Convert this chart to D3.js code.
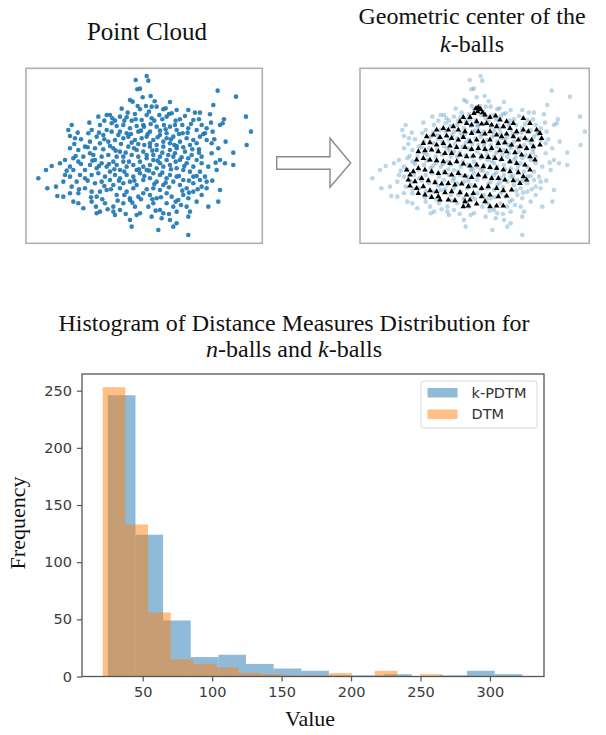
<!DOCTYPE html>
<html>
<head>
<meta charset="utf-8">
<script src="https://cdn.jsdelivr.net/npm/d3@7"></script>
<style>
  html, body { margin: 0; padding: 0; background: #fff; }
  svg { display: block; }
</style>
</head>
<body>
<svg id="fig" width="606" height="735"></svg>
<script>
// ---- Histogram data: 15 equal-width bins per distance measure ----
const seriesNames = ["k-PDTM", "DTM"];
const kpdtmRange = [24.9, 323.3];
const kpdtmCounts = [246, 124, 49, 17, 19, 11, 7, 5, 1, 1, 2, 0, 1, 5, 2];
const dtmRange = [21.2, 266.0];
const dtmCounts = [253, 133, 56, 15, 11, 8, 3, 2, 1, 1, 3, 0, 5, 0, 2];
const xTicks = [50, 100, 150, 200, 250, 300];
const yTicks = [0, 50, 100, 150, 200, 250];

// ---- Point cloud (x, y) ----
const cloudPoints = [
  [0.05,2.52],[0.10,2.38],[-0.28,2.40],[-0.23,2.12],[-0.15,2.14],[2.18,2.08],[2.73,1.90],
  [-0.45,1.80],[-0.37,1.75],[-0.07,1.88],[0.17,1.92],[0.29,1.76],[0.75,1.74],[2.05,1.65],
  [0.35,1.60],[0.20,1.60],[0.03,1.62],[-0.70,1.54],[-0.15,1.52],[0.55,1.52],[0.95,1.50],
  [1.30,1.50],[1.50,1.42],[1.65,1.42],[1.95,1.37],[-1.15,1.35],[-1.05,1.35],[-1.40,1.30],
  [-0.75,1.30],[-0.55,1.28],[-0.30,1.38],[0.05,1.35],[0.20,1.25],[0.43,1.35],[0.65,1.30],
  [0.80,1.40],[1.05,1.22],[1.20,1.32],[2.37,1.22],[3.03,1.30],[-0.10,1.20],[-0.40,1.18],
  [-0.90,1.18],[1.45,1.20],
  [-1.67,1.12],[-2.20,1.05],[-1.35,1.05],[-1.00,1.10],[-0.85,1.02],[-0.65,1.05],[-0.45,0.95],
  [-0.25,1.02],[-0.03,1.00],[0.17,1.08],[0.35,1.00],[0.57,1.05],[0.75,1.00],[0.95,0.90],
  [1.13,0.80],[1.30,0.95],[1.55,0.90],[1.70,1.05],[1.85,0.95],[2.25,1.05],[2.33,1.10],
  [-2.30,0.90],[-1.60,0.90],[-1.70,0.80],[-1.15,0.90],[-0.75,0.85],[-0.55,0.80],[-0.20,0.85],
  [0.15,0.85],[0.45,0.88],[0.65,0.80],[0.90,1.05],[1.80,0.80],[2.03,0.85],[3.18,0.85],
  [-2.25,0.72],[-2.10,0.65],[-1.45,0.70],[-1.25,0.75],[-1.00,0.85],[-0.80,0.75],[-0.65,0.65],
  [-0.50,0.70],[-0.30,0.60],[-0.10,0.65],[0.05,0.70],[0.25,0.60],[0.45,0.75],[0.65,0.65],
  [0.85,0.70],[1.05,0.55],[1.25,0.65],[1.45,0.60],[1.65,0.70],[1.85,0.60],[2.00,0.50],
  [-1.65,0.55],[-1.35,0.50],[-1.10,0.55],[-0.90,0.60],[-0.40,0.52],[-0.20,0.48],[0.15,0.50],
  [0.35,0.45],[0.55,0.55],[0.75,0.50],[0.95,0.42],[1.35,0.45],[1.55,0.50],[3.05,0.45],[-1.80,0.40],
  [-2.00,0.30],[-2.25,0.35],[-1.50,0.35],[-1.25,0.32],[-0.95,0.35],[-0.75,0.25],[-0.50,0.40],
  [-0.25,0.30],[-0.05,0.25],[0.15,0.40],[0.35,0.30],[0.55,0.40],[0.75,0.30],[0.95,0.35],
  [1.20,0.25],[1.40,0.15],[1.55,0.00],[2.00,0.20],[2.20,0.35],[2.65,0.22],[-1.65,0.20],
  [-1.85,0.10],[-1.30,0.10],[-1.10,0.15],[-0.85,0.10],[-0.65,0.10],[-0.40,0.15],[-0.20,0.10],
  [0.05,0.15],[0.25,0.15],[0.45,0.10],[0.70,0.15],[0.90,0.20],[1.10,0.08],[1.30,0.05],
  [1.70,0.10],[2.25,0.00],[-2.40,0.00],[-2.15,0.05],[-1.50,0.00],
  [-2.55,-0.10],[-2.80,-0.18],[-2.97,-0.30],[-2.15,-0.30],[-2.00,-0.05],[-1.65,-0.15],[-1.80,-0.30],
  [-1.30,-0.10],[-1.15,-0.20],[-0.95,-0.05],[-0.75,-0.30],[-0.55,-0.20],[-0.35,-0.15],[-0.15,-0.05],
  [0.05,0.05],[0.25,0.00],[0.45,-0.10],[0.65,0.00],[0.85,0.10],[1.05,0.00],[1.25,-0.10],
  [1.45,-0.20],[1.65,-0.35],[1.90,-0.20],[1.70,-0.10],[2.15,-0.30],[2.40,-0.10],[2.65,-0.15],
  [-1.45,-0.25],[-1.05,-0.35],[-0.85,-0.15],[-0.65,-0.05],[-0.25,-0.30],[-0.05,-0.20],[0.15,-0.15],
  [0.35,-0.25],[0.55,-0.20],[0.75,-0.15],[0.95,-0.25],[1.15,-0.30],[1.35,-0.35],[-2.25,-0.20],[-2.40,-0.45],
  [-3.20,-0.55],[-2.25,-0.50],[-2.45,-0.65],[-2.67,-0.80],[-1.95,-0.45],[-2.05,-0.65],[-1.80,-0.55],
  [-1.60,-0.45],[-1.40,-0.40],[-1.20,-0.50],[-1.05,-0.60],[-0.90,-0.45],[-0.75,-0.55],[-0.55,-0.45],
  [-0.35,-0.50],[-0.15,-0.40],[0.05,-0.30],[0.25,-0.40],[0.45,-0.45],[0.65,-0.55],[0.85,-0.65],
  [1.05,-0.75],[1.25,-0.85],[1.45,-0.70],[1.65,-0.60],[1.80,-0.50],[1.85,-0.65],[-1.50,-0.70],
  [-1.30,-0.65],[-0.65,-0.70],[-0.45,-0.65],[-0.25,-0.75],[-0.05,-0.60],[0.15,-0.55],[0.35,-0.65],
  [0.55,-0.75],[0.75,-0.45],[0.95,-0.50],[1.15,-0.60],[1.45,-0.50],
  [-2.93,-0.85],[-2.63,-1.08],[-2.45,-1.10],[-2.20,-0.80],[-2.25,-1.00],[-1.80,-0.85],[-1.60,-0.95],
  [-1.35,-0.95],[-1.15,-0.90],[-0.95,-0.75],[-0.75,-0.85],[-0.55,-0.95],[-0.35,-0.85],[-0.20,-1.10],
  [-0.05,-1.00],[0.15,-1.05],[0.25,-0.85],[0.45,-0.90],[0.65,-1.00],[0.80,-1.10],[1.00,-1.20],
  [1.15,-1.05],[1.45,-0.95],[1.70,-1.05],[1.70,-0.80],[1.85,-0.85],[2.25,-0.90],[-1.45,-1.10],
  [-0.85,-1.05],[-0.45,-1.15],[0.35,-1.15],[1.30,-1.15],[-2.00,-1.00],
  [-2.15,-1.25],[-2.00,-1.30],[-1.85,-1.45],[-1.60,-1.25],[-1.47,-1.40],[-1.20,-1.30],[-0.95,-1.40],
  [-0.65,-1.30],[-0.45,-1.20],[-0.30,-1.40],[-0.15,-1.60],[0.10,-1.40],[0.45,-1.50],[0.55,-1.60],
  [0.95,-1.55],[1.25,-1.40],[1.35,-1.55],[1.90,-1.40],[2.20,-1.25],[-1.45,-1.60],[-1.35,-1.55],
  [-0.95,-1.55],[-0.75,-1.50],[0.25,-1.30],[0.65,-1.30],[0.85,-1.40],[1.55,-1.25],
  [-0.90,-1.65],[-0.45,-1.80],[-0.40,-2.00],[0.40,-2.10],[0.50,-1.75],[0.85,-2.00],[0.95,-1.90],
  [1.30,-1.70],[1.30,-2.25],[-0.25,-1.65],[0.20,-1.70],[0.75,-1.80],
  [-1.92,0.62],[-1.72,0.38],[-1.55,0.15],[-1.38,0.82],[-1.22,0.62],[-1.05,0.42],[-0.88,0.28],
  [-0.72,0.48],[-0.58,0.22],[-0.42,0.78],[-0.33,0.35],[-0.12,0.88],[-0.02,0.45],[0.08,0.78],
  [0.22,0.28],[0.38,0.68],[0.52,0.22],[0.62,0.92],[0.78,0.62],[0.88,0.45],[1.02,0.78],
  [1.15,0.38],[1.28,0.82],[1.42,0.32],[1.62,0.22],[1.75,0.78],
  [-1.92,-0.12],[-1.72,-0.62],[-1.58,-0.02],[-1.38,-0.18],[-1.22,-0.78],[-1.08,-0.12],[-0.92,-0.28],
  [-0.78,-0.62],[-0.62,-0.35],[-0.48,-0.05],[-0.32,-0.62],[-0.18,-0.28],[-0.02,-0.48],[0.12,-0.32],
  [0.28,-0.72],[0.38,-0.02],[0.52,-0.38],[0.62,-0.68],[0.78,-0.28],[0.92,-0.05],[1.02,-0.48],
  [1.18,-0.18],[1.32,-0.62],[1.55,-0.48],[1.62,0.32],
  [-1.62,-1.12],[-1.28,-1.18],[-1.02,-0.88],[-0.82,-1.22],[-0.62,-1.05],[-0.38,-1.28],[-0.12,-1.18],
  [0.05,-0.88],[0.22,-1.18],[0.48,-1.12],[0.72,-0.82],[0.92,-1.25],[1.12,-0.92],[1.32,-0.98],[1.58,-0.88],
  [-1.22,1.18],[-0.98,1.25],[-0.62,1.18],[-0.28,1.22],[-0.05,1.05],[0.28,1.18],[0.52,1.22],
  [0.72,1.38],[0.92,1.18],[1.12,1.05],[1.38,1.08],[1.62,1.22],[-0.52,1.42],[-0.22,1.62],[0.12,1.45],[0.62,1.55],
  [-2.02,0.82],[-2.12,0.48],[-1.98,-0.88],[-2.35,-0.32],[-2.08,0.12],[2.08,0.62],[2.12,-0.08],
  [2.02,-0.62],[1.98,1.12],[2.42,0.55],[-0.58,-1.62],[0.32,-1.52],[0.72,-1.62],[-1.12,-1.48],[1.08,-1.35]
];

// ---- Geometric centers of the k-balls (x, y) ----
const ballCenters = [
  [-0.09,1.55],[-0.02,1.58],[0.05,1.52],[-0.04,1.45],[0.11,1.42],[-0.15,1.40],[0.18,1.35],
  [-0.47,1.28],[-0.27,1.28],[0.33,1.28],[0.50,1.32],[0.63,1.20],[0.83,1.15],[1.03,1.10],
  [1.33,1.25],[1.53,1.10],[-0.57,1.15],[-0.37,1.10],[-0.22,1.05],[-0.07,1.15],[0.08,1.08],
  [0.23,1.10],[0.38,1.05],[0.53,1.00],[0.73,1.00],[0.93,0.95],[1.13,0.85],[1.33,0.90],
  [1.48,0.85],[1.73,0.90],[1.83,0.80],[1.88,0.65],[-1.27,0.90],[-1.07,0.95],[-0.92,0.90],
  [-0.77,1.00],[-0.62,0.90],[-0.42,0.85],[-0.22,0.80],[-0.02,0.85],[0.18,0.78],[0.33,0.85],
  [0.53,0.75],[0.68,0.70],[0.83,0.78],[1.03,0.70],[1.18,0.60],[1.38,0.65],[1.58,0.60],
  [-1.57,0.70],[-1.37,0.75],[-1.17,0.68],[-0.97,0.72],[-0.82,0.65],[-0.62,0.60],[-0.47,0.68],
  [-0.27,0.55],[-0.07,0.60],[0.13,0.55],[0.33,0.60],[0.58,0.50],[0.78,0.52],[0.98,0.45],
  [1.23,0.40],[1.43,0.35],[1.63,0.40],[1.83,0.45],[-1.67,0.50],[-1.47,0.52],[-1.27,0.45],
  [-1.07,0.50],[-0.87,0.42],[-0.67,0.38],[-0.42,0.38],[-0.22,0.32],[-0.02,0.35],[0.18,0.32],
  [0.38,0.35],[0.63,0.28],[0.83,0.25],[1.08,0.22],[1.28,0.15],[1.53,0.10],[1.68,0.00],
  [-1.82,0.25],[-1.62,0.28],[-1.42,0.30],[-1.22,0.25],[-1.02,0.20],[-0.82,0.20],[-0.57,0.15],
  [-0.37,0.10],[-0.17,0.12],[0.08,0.10],[0.28,0.08],[0.48,0.05],[0.68,0.02],[0.93,-0.05],
  [1.13,-0.10],[1.38,-0.15],[1.53,-0.30],[-1.87,0.00],[-1.67,0.05],[-1.47,0.00],[-1.27,-0.02],
  [-1.07,-0.05],[-0.87,-0.10],[-0.67,-0.05],[-0.47,-0.12],[-0.27,-0.18],[-0.07,-0.15],[0.13,-0.20],
  [0.33,-0.22],[0.53,-0.25],[0.73,-0.30],[0.93,-0.35],[1.18,-0.38],[1.33,-0.50],[-2.17,-0.30],
  [-2.07,-0.45],[-1.97,-0.35],[-1.82,-0.25],[-1.62,-0.30],[-1.42,-0.35],[-1.22,-0.40],[-1.02,-0.38],
  [-0.82,-0.45],[-0.62,-0.40],[-0.42,-0.48],[-0.22,-0.52],[-0.02,-0.45],[0.18,-0.50],[0.38,-0.55],
  [0.58,-0.55],[0.78,-0.60],[1.03,-0.62],[1.23,-0.70],[1.43,-0.60],[-2.12,-0.60],[-1.92,-0.65],
  [-1.72,-0.55],[-1.52,-0.62],[-1.32,-0.68],[-1.12,-0.72],[-0.92,-0.70],[-0.72,-0.75],[-0.52,-0.72],
  [-0.32,-0.80],[-0.12,-0.78],[0.08,-0.85],[0.28,-0.80],[0.53,-0.85],[0.73,-0.92],[0.98,-0.90],
  [-2.07,-0.78],[-1.87,-0.85],[-1.67,-0.80],[-1.47,-0.92],[-1.27,-0.95],[-1.02,-0.98],[-0.82,-0.95],
  [-0.57,-0.98],[-0.37,-1.05],[-0.17,-1.00],[0.08,-1.10],[0.33,-1.05],[0.58,-1.10],[0.83,-1.08],
  [-1.82,-1.00],[-1.62,-1.05],[-1.42,-1.12],[-1.22,-1.10],[-0.92,-1.20],[-0.72,-1.22],[-0.42,-1.25],
  [-0.27,-1.20],[-0.07,-1.32],[0.18,-1.25],[0.53,-1.38],[0.73,-1.38],[-1.17,-1.20],[-0.47,-1.40],
  [-0.32,-1.38],[0.33,-1.40]
];

const svg = d3.select("#fig");
const serif = "'Liberation Serif', 'Times New Roman', serif";
const sans = "'DejaVu Sans', sans-serif";
const blue = "#1f77b4", orange = "#ff7f0e";

// ---------- Top panels ----------
const cloudX = d3.scaleLinear().domain([-3.57, 3.52]);
const cloudY = d3.scaleLinear().domain([-2.5, 2.75]).range([243.3, 68.3]);
const panels = [
  { left: 26, width: 236.3 },
  { left: 360, width: 229.3 }
];

// panel titles
svg.append("text").attr("x", 147).attr("y", 40).attr("text-anchor", "middle")
  .style("font-family", serif).style("font-size", "25px").attr("fill", "#111")
  .text("Point Cloud");
const t2 = svg.append("text").attr("text-anchor", "middle")
  .style("font-family", serif).style("font-size", "24px").attr("fill", "#111");
t2.append("tspan").attr("x", 472).attr("y", 24).text("Geometric center of the");
const t2b = t2.append("tspan").attr("x", 472).attr("y", 52);
t2b.append("tspan").style("font-style", "italic").text("k");
t2b.append("tspan").text("-balls");

svg.append("defs").selectAll("clipPath").data(panels).join("clipPath")
  .attr("id", (d, i) => "clip" + i)
  .append("rect").attr("x", d => d.left).attr("y", 68.3)
  .attr("width", d => d.width).attr("height", 175);

panels.forEach((p, i) => {
  const xs = cloudX.copy().range([p.left, p.left + 236.3]);
  const g = svg.append("g").attr("clip-path", `url(#clip${i})`);
  g.append("rect").attr("x", p.left).attr("y", 68.3).attr("width", p.width).attr("height", 175)
    .attr("fill", "#fff");
  g.selectAll("circle").data(cloudPoints).join("circle")
    .attr("cx", d => xs(d[0])).attr("cy", d => cloudY(d[1])).attr("r", 2.3)
    .attr("fill", blue).attr("fill-opacity", i === 0 ? 0.92 : 0.3);
  if (i === 1) {
    const tri = d3.symbol().type(d3.symbolTriangle).size(14);
    g.selectAll("path.c").data(ballCenters).join("path").attr("class", "c")
      .attr("transform", d => `translate(${xs(d[0])},${cloudY(d[1])})`)
      .attr("d", tri).attr("fill", "#000");
  }
  svg.append("rect").attr("x", p.left).attr("y", 68.3).attr("width", p.width).attr("height", 175)
    .attr("fill", "none").attr("stroke", "#b0b0b0").attr("stroke-width", 1.6);
});

// arrow between the panels
svg.append("path")
  .attr("d", "M276.7,156.7 L330,156.7 L330,138.3 L350.7,163 L330,187.3 L330,169.3 L276.7,169.3 Z")
  .attr("fill", "#fff").attr("stroke", "#8a8a8a").attr("stroke-width", 1.4)
  .attr("stroke-linejoin", "miter");

// ---------- Histogram ----------
const H = { left: 82, right: 544, top: 374, bottom: 676.5 };
const x = d3.scaleLinear().domain([6.3, 338.9]).range([H.left, H.right]);
const y = d3.scaleLinear().domain([0, 264.6]).range([H.bottom, H.top]);

const title = svg.append("text").attr("text-anchor", "middle")
  .style("font-family", serif).style("font-size", "24px").attr("fill", "#111");
title.append("tspan").attr("x", 294).attr("y", 331)
  .text("Histogram of Distance Measures Distribution for");
const tl2 = title.append("tspan").attr("x", 294).attr("y", 357);
tl2.append("tspan").style("font-style", "italic").text("n");
tl2.append("tspan").text("-balls and ");
tl2.append("tspan").style("font-style", "italic").text("k");
tl2.append("tspan").text("-balls");

function binsOf(range, counts) {
  const w = (range[1] - range[0]) / counts.length;
  return counts.map((c, i) => ({ x0: range[0] + i * w, x1: range[0] + (i + 1) * w, n: c }));
}
const series = [
  { name: seriesNames[0], color: blue, bins: binsOf(kpdtmRange, kpdtmCounts) },
  { name: seriesNames[1], color: orange, bins: binsOf(dtmRange, dtmCounts) }
];

const plot = svg.append("g");
series.forEach(s => {
  plot.append("g").selectAll("rect").data(s.bins.filter(b => b.n > 0)).join("rect")
    .attr("x", b => x(b.x0)).attr("width", b => x(b.x1) - x(b.x0))
    .attr("y", b => y(b.n)).attr("height", b => y(0) - y(b.n))
    .attr("fill", s.color).attr("fill-opacity", 0.5);
});

// axes
const xAxis = svg.append("g").attr("transform", `translate(0,${H.bottom})`)
  .call(d3.axisBottom(x).tickValues(xTicks).tickSize(5).tickPadding(5));
const yAxis = svg.append("g").attr("transform", `translate(${H.left},0)`)
  .call(d3.axisLeft(y).tickValues(yTicks).tickSize(5).tickPadding(5));
[xAxis, yAxis].forEach(a => {
  a.select(".domain").remove();
  a.selectAll(".tick line").attr("stroke", "#555").attr("stroke-width", 1.2);
  a.selectAll(".tick text").style("font-family", sans).style("font-size", "14.5px").attr("fill", "#3a3a3a");
});

// frame
svg.append("rect").attr("x", H.left).attr("y", H.top)
  .attr("width", H.right - H.left).attr("height", H.bottom - H.top)
  .attr("fill", "none").attr("stroke", "#555").attr("stroke-width", 1.3);

// axis labels
svg.append("text").attr("x", 310).attr("y", 726).attr("text-anchor", "middle")
  .style("font-family", serif).style("font-size", "22px").attr("fill", "#111").text("Value");
svg.append("text").attr("transform", "translate(25,523) rotate(-90)").attr("text-anchor", "middle")
  .style("font-family", serif).style("font-size", "22px").attr("fill", "#111").text("Frequency");

// legend
const lg = svg.append("g");
lg.append("rect").attr("x", 421).attr("y", 381).attr("width", 116).attr("height", 47)
  .attr("rx", 3).attr("fill", "#fff").attr("fill-opacity", 0.8)
  .attr("stroke", "#d8d8d8").attr("stroke-width", 1);
series.forEach((s, i) => {
  const yy = 392.5 + i * 21.5;
  lg.append("rect").attr("x", 427.5).attr("y", yy - 4.5).attr("width", 30).attr("height", 9.5)
    .attr("fill", s.color).attr("fill-opacity", 0.5);
  lg.append("text").attr("x", 471.5).attr("y", yy).attr("dy", "0.36em")
    .style("font-family", sans).style("font-size", "14.5px").attr("fill", "#333").text(s.name);
});
</script>
</body>
</html>
